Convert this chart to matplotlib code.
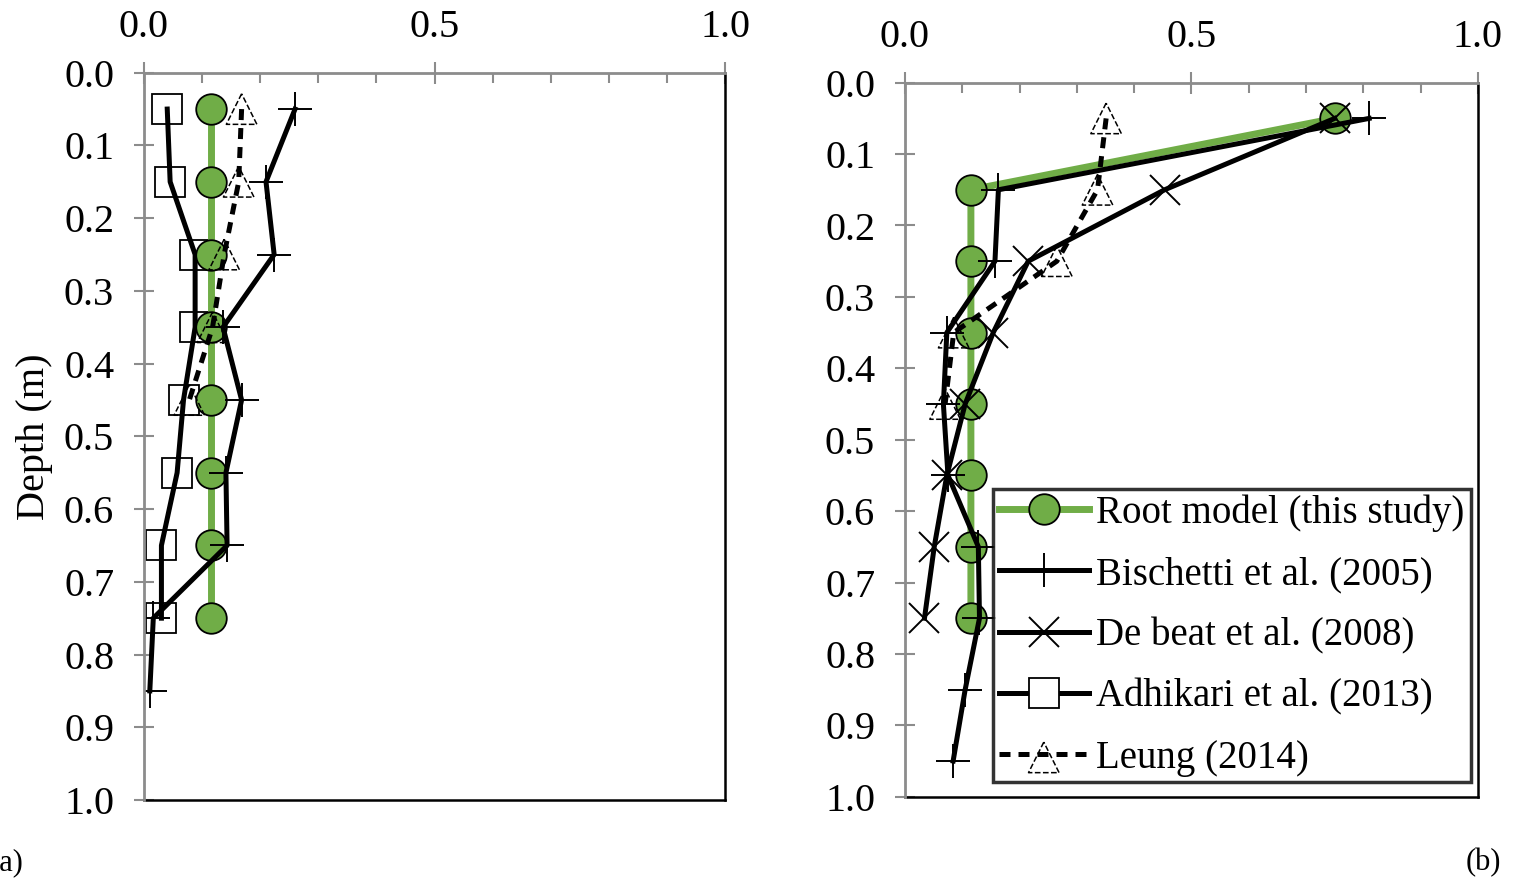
import matplotlib
matplotlib.use('Agg')
from matplotlib import pyplot as plt
from matplotlib.lines import Line2D
from matplotlib.ticker import MultipleLocator

plt.rcParams['font.family'] = ['Liberation Serif', 'DejaVu Serif']

# depths (m)
depth_root = [0.05, 0.15, 0.25, 0.35, 0.45, 0.55, 0.65, 0.75]
depth_bisch_a = [0.05, 0.15, 0.25, 0.35, 0.45, 0.55, 0.65, 0.75, 0.85]
depth_bisch_b = [0.05, 0.15, 0.25, 0.35, 0.45, 0.55, 0.65, 0.75, 0.85, 0.95]
depth_leung = [0.05, 0.15, 0.25, 0.35, 0.45]

# panel (a)
root_a = [0.115, 0.115, 0.115, 0.115, 0.115, 0.115, 0.115, 0.115]
bisch_a = [0.26, 0.21, 0.224, 0.136, 0.168, 0.141, 0.143, 0.016, 0.01]
adhik_a = [0.04, 0.045, 0.088, 0.088, 0.068, 0.057, 0.03, 0.03]
leung_a = [0.168, 0.163, 0.138, 0.118, 0.078]

# panel (b)
root_b = [0.75, 0.115, 0.115, 0.115, 0.115, 0.115, 0.115, 0.115]
bisch_b = [0.81, 0.163, 0.157, 0.073, 0.067, 0.075, 0.128, 0.13, 0.105, 0.084]
debeat_b = [0.75, 0.453, 0.215, 0.154, 0.105, 0.073, 0.051, 0.034]
leung_b = [0.351, 0.336, 0.265, 0.085, 0.07]

labels = ['Root model (this study)', 'Bischetti et al. (2005)', 'De beat et al. (2008)',
          'Adhikari et al. (2013)', 'Leung (2014)']

green = '#70AD47'
grey = '#8c8c8c'
fs = 29
ms = 22
lw = 3.6

fig = plt.figure(figsize=(15.16, 8.8), dpi=100)
ax_a = fig.add_axes([144 / 1516, 1 - 800 / 880, (725 - 144) / 1516, (800 - 72.7) / 880])
ax_b = fig.add_axes([905 / 1516, 1 - 796.7 / 880, (1478 - 905) / 1516, (796.7 - 82.7) / 880])


def style_axes(ax):
    ax.set_xlim(0, 1)
    ax.set_ylim(1, 0)
    ax.xaxis.tick_top()
    ax.xaxis.set_major_locator(MultipleLocator(0.5))
    ax.xaxis.set_minor_locator(MultipleLocator(0.1))
    ax.yaxis.set_major_locator(MultipleLocator(0.1))
    ax.xaxis.set_major_formatter(plt.FormatStrFormatter('%.1f'))
    ax.yaxis.set_major_formatter(plt.FormatStrFormatter('%.1f'))
    ax.tick_params(axis='x', which='major', direction='inout', length=16, width=1.5,
                   color=grey, labelsize=fs, pad=11, top=True, bottom=False)
    ax.tick_params(axis='x', which='minor', direction='in', length=7, width=1.5,
                   color=grey, top=True, bottom=False)
    ax.tick_params(axis='y', which='major', direction='inout', length=15, width=1.5,
                   color=grey, labelsize=fs, pad=14)
    for side in ['top', 'left']:
        ax.spines[side].set_color(grey)
        ax.spines[side].set_linewidth(2)
        ax.spines[side].set_zorder(5)
    for side in ['right', 'bottom']:
        ax.spines[side].set_color('black')
        ax.spines[side].set_linewidth(1.8)


def leung(ax, x, y):
    ax.plot(x, y, color='black', lw=lw, ls=(0, (2.2, 1.6)), zorder=6)
    ax.scatter(x, y, s=ms ** 2, marker='^', facecolors='none', edgecolors='black',
               linewidths=1.1, linestyles='--', zorder=7)


# (a)
ax_a.plot(adhik_a, depth_root, color='black', lw=lw, marker='s', ms=ms,
          mfc='none', mec='black', mew=1.3, zorder=2)
ax_a.plot(root_a, depth_root, color=green, lw=5, marker='o', ms=ms,
          mfc=green, mec='black', mew=1.3, zorder=3)
ax_a.plot(bisch_a, depth_bisch_a, color='black', lw=lw, marker='+', ms=ms + 2,
          mec='black', mew=1.4, zorder=4)
leung(ax_a, leung_a, depth_leung)
ax_a.set_ylabel('Depth (m)', fontsize=fs, labelpad=8)
style_axes(ax_a)

# (b)
ax_b.plot(root_b, depth_root, color=green, lw=5, marker='o', ms=ms,
          mfc=green, mec='black', mew=1.3, zorder=3)
ax_b.plot(bisch_b, depth_bisch_b, color='black', lw=lw, marker='+', ms=ms + 2,
          mec='black', mew=1.4, zorder=4)
ax_b.plot(debeat_b, depth_root, color='black', lw=lw, marker='x', ms=ms,
          mec='black', mew=1.4, zorder=5)
leung(ax_b, leung_b, depth_leung)
style_axes(ax_b)

# legend with proxy handles
h_root = Line2D([], [], color=green, lw=5, marker='o', ms=ms, mfc=green, mec='black', mew=1.3)
h_bisch = Line2D([], [], color='black', lw=lw, marker='+', ms=ms + 2, mew=1.4)
h_debeat = Line2D([], [], color='black', lw=lw, marker='x', ms=ms, mew=1.4)
h_adhik = Line2D([], [], color='black', lw=lw, marker='s', ms=ms, mfc='white', mec='black', mew=1.3)
h_line = Line2D([], [], color='black', lw=lw, ls=(0, (2.2, 1.6)))
h_tri = ax_b.scatter([], [], s=ms ** 2, marker='^', facecolors='none', edgecolors='black',
                     linewidths=1.1, linestyles='--')
leg = ax_b.legend([h_root, h_bisch, h_debeat, h_adhik, (h_line, h_tri)], labels,
                  loc='lower left', bbox_to_anchor=(0.154, 0.02), fontsize=28,
                  frameon=True, fancybox=False, handlelength=2.3, handletextpad=0.2,
                  borderpad=0.15, labelspacing=0.62, borderaxespad=0, scatterpoints=1)
leg.get_frame().set_edgecolor('black')
leg.get_frame().set_linewidth(2.5)
leg.set_zorder(10)

fig.text(-0.007, 0.02, '(a)', fontsize=22, va='center', ha='left')
fig.text(0.99, 0.02, '(b)', fontsize=22, va='center', ha='right')

fig.savefig('out.png', dpi=100)
